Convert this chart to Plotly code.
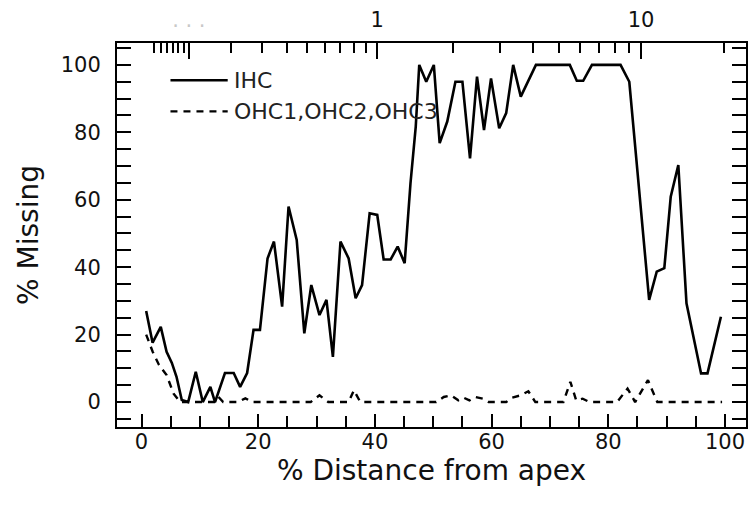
import numpy as np
import plotly.graph_objects as go

# IHC (% missing) vs % distance from apex
ihc_x = [0.8, 1.9, 3.3, 4.3, 5.2, 6.0, 6.9, 8.0, 9.3, 10.5, 11.8, 12.6, 14.3, 15.8, 16.9,
         18.1, 19.2, 20.3, 21.6, 22.7, 24.1, 25.2, 26.6, 27.9, 29.1, 30.5, 31.7, 32.8, 34.1,
         35.5, 36.7, 37.8, 39.1, 40.4, 41.5, 42.7, 43.9, 45.1, 46.1, 47.0, 47.6, 48.8, 50.1,
         51.1, 52.4, 53.8, 55.0, 56.3, 57.5, 58.7, 59.9, 61.3, 62.5, 63.7, 65.0, 67.6, 73.4,
         74.6, 75.7, 77.2, 82.1, 83.6, 87.0, 88.3, 89.6, 90.7, 92.0, 93.4, 95.9, 97.0, 99.3]
ihc_y = [27, 17.6, 22.3, 14.9, 11.6, 7.5, 0.6, 0, 9, 0, 4.5, 0, 8.6, 8.6, 4.5,
         8.6, 21.4, 21.4, 42.6, 47.6, 28.3, 58, 48.1, 20.4, 34.7, 25.8, 30.3, 13.4, 47.6,
         42.6, 30.8, 34.7, 56, 55.5, 42.3, 42.3, 46.1, 41.2, 64.9, 81.7, 100, 95, 100,
         76.8, 83.2, 95, 95, 72.3, 96.5, 80.7, 96, 81.2, 85.7, 100, 90.6, 100, 100,
         95.3, 95.3, 100, 100, 95, 30.3, 38.7, 39.7, 60.9, 70.3, 29.3, 8.5, 8.5, 25.3]

# OHC1, OHC2, OHC3 (% missing)
ohc_x = [0.8, 1.9, 3.0, 4.3, 5.5, 6.6, 10, 12.5, 13.2, 14.0, 16.5, 17.8, 19, 29, 30.5, 32,
         35.5, 36.4, 37.5, 50.5, 51.8, 53.0, 54.3, 55.2, 56.2, 57.2, 58.5, 59.5, 62.5, 63.5,
         65.0, 66.3, 67.5, 72.3, 73.5, 74.5, 75.6, 76.8, 81.5, 83.3, 84.6, 86.8, 87.4, 88.4, 99.5]
ohc_y = [20, 15, 11, 8, 2.5, 0, 0, 0, 1.5, 0, 0, 1.1, 0, 0, 2, 0,
         0, 3.5, 0, 0, 1.5, 2, 0.5, 1.3, 0.5, 1.5, 1, 0, 0, 1.3,
         2, 3.2, 0, 0, 6, 0.5, 1, 0, 0, 4, 0, 6.5, 4, 0, 0]

series_names = ["IHC", "OHC1,OHC2,OHC3"]

# Top axis: frequency (kHz) via Greenwood-type place map
freq_major = [0.1, 1, 10]
freq_major_text = ["<span style='color:#c8c8c8'>. . .</span>", "1", "10"]
freq_minor = [0.04, 0.05, 0.06, 0.07, 0.08, 0.09, 0.2, 0.3, 0.4, 0.5, 0.6, 0.7, 0.8, 0.9,
              2, 3, 4, 5, 6, 7, 8, 9, 20]
GW_A, GW_a, GW_k = 0.1615, 2.1, 0.861


def freq_to_pos(f):
    return 100.0 / GW_a * np.log10(np.asarray(f) / GW_A + GW_k)


XR = [-4.2, 103.6]
YR = [-7.4, 106.5]
FONT = "DejaVu Sans"
DASH = "7px,6px"

fig = go.Figure()
fig.add_trace(go.Scatter(x=ihc_x, y=ihc_y, mode="lines", name=series_names[0],
                         line=dict(color="black", width=2.6)))
fig.add_trace(go.Scatter(x=ohc_x, y=ohc_y, mode="lines", name=series_names[1],
                         line=dict(color="black", width=2.4, dash=DASH)))
# invisible trace for top axis
fig.add_trace(go.Scatter(x=[XR[0]], y=[0], xaxis="x2", mode="markers",
                         marker=dict(opacity=0), showlegend=False, hoverinfo="skip"))

# legend drawn as keys + labels (paper coordinates)
leg_x0, leg_x1, leg_tx = 0.085, 0.176, 0.184
leg_rows = [0.903, 0.822]
dashes = ["solid", "dash"]
for name, yy, dsh in zip(series_names, leg_rows, dashes):
    fig.add_shape(type="line", xref="paper", yref="paper", x0=leg_x0, x1=leg_x1,
                  y0=yy, y1=yy, line=dict(color="black", width=2.4,
                                          dash="solid" if dsh == "solid" else DASH))
    fig.add_annotation(xref="paper", yref="paper", x=leg_tx, y=yy, text=name,
                       showarrow=False, xanchor="left", yanchor="middle", borderpad=0,
                       font=dict(size=22, color="#222", family=FONT))

fig.update_layout(
    width=750, height=510,
    margin=dict(l=117, r=4, t=43, b=83),
    paper_bgcolor="white", plot_bgcolor="white",
    font=dict(family=FONT, color="#111", size=21),
    showlegend=False,
    xaxis=dict(range=XR, showgrid=False, zeroline=False, automargin=False,
               showline=True, linecolor="black", linewidth=2, mirror=True,
               tickmode="array", tickvals=[0, 20, 40, 60, 80, 100],
               ticks="inside", ticklen=13, tickwidth=2, tickcolor="black",
               minor=dict(tickmode="linear", tick0=0, dtick=5, ticks="inside",
                          ticklen=11, tickwidth=2, tickcolor="black"),
               tickfont=dict(size=21), ticklabelstandoff=-5,
               title=dict(text="% Distance from apex", font=dict(size=28), standoff=6)),
    xaxis2=dict(range=XR, overlaying="x", side="top", showgrid=False, zeroline=False,
                automargin=False,
                showline=True, linecolor="black", linewidth=2,
                tickmode="array", tickvals=list(freq_to_pos(freq_major)),
                ticktext=freq_major_text,
                ticks="inside", ticklen=16, tickwidth=2, tickcolor="black",
                minor=dict(tickmode="array", tickvals=list(freq_to_pos(freq_minor)),
                           ticks="inside", ticklen=10, tickwidth=2, tickcolor="black"),
                tickfont=dict(size=21), ticklabelstandoff=6),
    yaxis=dict(range=YR, showgrid=False, zeroline=False, automargin=False,
               showline=True, linecolor="black", linewidth=2, mirror="allticks",
               tickmode="array", tickvals=[0, 20, 40, 60, 80, 100],
               ticks="inside", ticklen=14, tickwidth=2, tickcolor="black",
               minor=dict(tickmode="linear", tick0=0, dtick=5, ticks="inside",
                          ticklen=9, tickwidth=2, tickcolor="black"),
               tickfont=dict(size=21), ticklabelstandoff=10,
               title=dict(text="% Missing", font=dict(size=28), standoff=14)),
)

fig.write_html("out.html", config={"displayModeBar": False},
               post_script="document.body.style.margin='0px';document.body.style.overflow='hidden';")
